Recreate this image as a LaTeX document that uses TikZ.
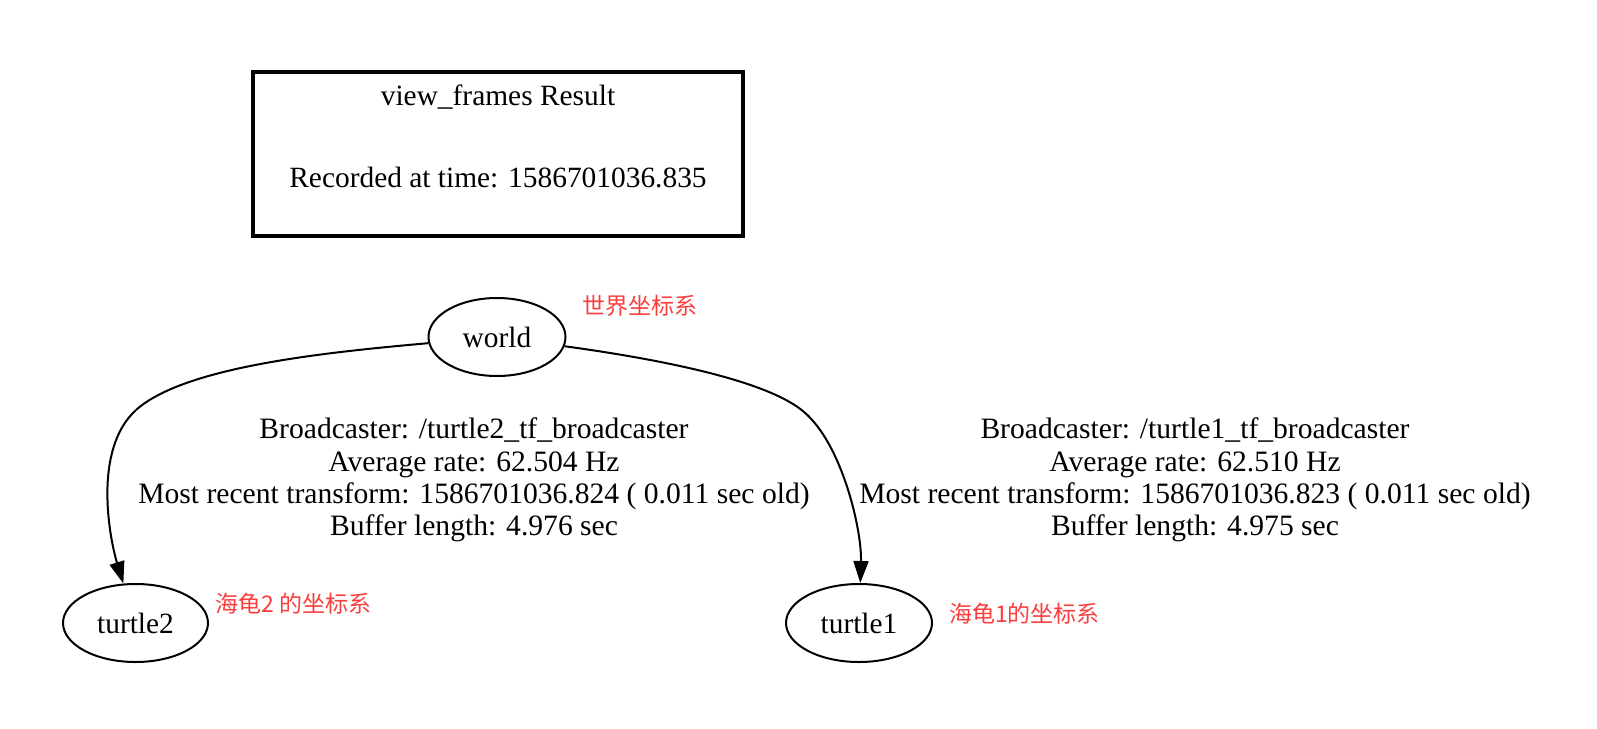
\documentclass[tikz,border=0pt]{standalone}
\usepackage{fontspec}
\setmainfont{Liberation Serif}
\newfontfamily\cjk{Noto Sans CJK SC}
\usetikzlibrary{shapes.geometric,arrows.meta}
\definecolor{labred}{RGB}{250,62,62}
\tikzset{
  frame/.style={ellipse,draw,line width=2pt,inner sep=0pt,minimum height=78pt,
    font=\fontsize{29.4}{32}\selectfont},
  txt/.style={inner sep=0pt,font=\fontsize{29.4}{32}\selectfont},
  elabel/.style={inner sep=0pt,align=center,font=\fontsize{29.6}{32.3}\selectfont},
  note/.style={inner sep=0pt,text=labred,font=\cjk\fontsize{23}{26}\selectfont},
  tfedge/.style={line width=2pt,-{Triangle[length=22pt,width=15pt]}},
}
\begin{document}
\begin{tikzpicture}[x=1pt,y=-1pt]
\useasboundingbox[fill=white] (0,0) rectangle (1597,728);
% header box
\node[draw,line width=3.5pt,minimum width=490pt,minimum height=164pt,inner sep=0pt] (hdr) at (498,154) {};
\node[txt] (title) at (498,97) {view\_frames Result};
\node[txt] (rec) at (498,178) {Recorded at time: 1586701036.835};
% frames
\node[frame,minimum width=137pt] (world) at (497,337) {world};
\node[frame,minimum width=145pt] (turtle2) at (135.5,623) {turtle2};
\node[frame,minimum width=146pt] (turtle1) at (859,623) {turtle1};
% notes
\node[note] (nworld) at (640,306) {世界坐标系};
\node[note,anchor=west] (nt2) at (215,604) {海龟2 的坐标系};
\node[note,anchor=west] (nt1) at (949,614) {海龟1的坐标系};
% edges
\coordinate (m2) at (136,410);
\coordinate (m1) at (804,412);
\draw[line width=2pt] (world) .. controls (330,352) and (185,366) .. (m2);
\draw[tfedge] (m2) .. controls (92,450) and (110,540) .. (turtle2);
\draw[line width=2pt] (world) .. controls (680,362) and (772,384) .. (m1);
\draw[tfedge] (m1) .. controls (842,444) and (862,530) .. (turtle1);
% edge labels
\node[elabel] (l2) at (474,480) {Broadcaster: /turtle2\_tf\_broadcaster\\Average rate: 62.504 Hz\\Most recent transform: 1586701036.824 ( 0.011 sec old)\\Buffer length: 4.976 sec};
\node[elabel] (l1) at (1195,480) {Broadcaster: /turtle1\_tf\_broadcaster\\Average rate: 62.510 Hz\\Most recent transform: 1586701036.823 ( 0.011 sec old)\\Buffer length: 4.975 sec};
\end{tikzpicture}
\end{document}
